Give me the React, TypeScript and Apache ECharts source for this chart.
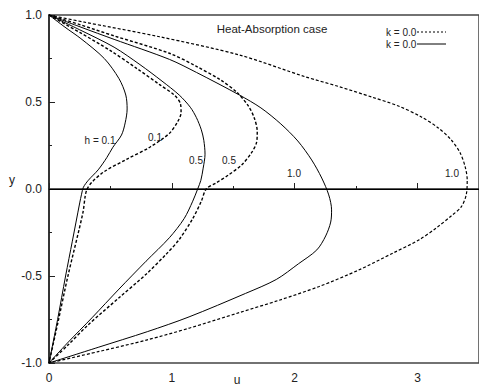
import React, { useEffect, useRef } from "react";
import * as echarts from "echarts";

// u (x) vs y profiles, k = 0.0 (solid and dashed), h = 0.1, 0.5, 1.0
const solidH01: [number, number][] = [
  [0, 1], [0.13, 0.93], [0.26, 0.864], [0.45, 0.75], [0.57, 0.634], [0.625, 0.54], [0.636, 0.46],
  [0.62, 0.38], [0.59, 0.31], [0.52, 0.24], [0.47, 0.18], [0.4, 0.11], [0.32, 0.05], [0.28, 0.01],
  [0.265, -0.03], [0.25, -0.08], [0.19, -0.3], [0.135, -0.5], [0.07, -0.75], [0, -1],
];
const dashedH01: [number, number][] = [
  [0, 1], [0.25, 0.9], [0.5, 0.795], [0.72, 0.69], [0.9, 0.6], [1.02, 0.54], [1.07, 0.49],
  [1.075, 0.44], [1.05, 0.39], [0.98, 0.32], [0.82, 0.24], [0.63, 0.17], [0.45, 0.1], [0.35, 0.04],
  [0.31, 0], [0.295, -0.04], [0.275, -0.14], [0.154, -0.5], [0.075, -0.76], [0, -1],
];
const solidH05: [number, number][] = [
  [0, 1], [0.25, 0.915], [0.53, 0.815], [0.74, 0.715], [0.92, 0.62], [1.06, 0.54], [1.15, 0.47],
  [1.2, 0.41], [1.24, 0.34], [1.26, 0.28], [1.27, 0.2], [1.255, 0.12], [1.236, 0.05], [1.21, 0],
  [1.17, -0.07], [1.1, -0.17], [0.98, -0.28], [0.79, -0.415], [0.57, -0.575], [0.35, -0.74],
  [0.15, -0.885], [0, -1],
];
const dashedH05: [number, number][] = [
  [0, 1], [0.25, 0.945], [0.53, 0.88], [0.98, 0.78], [1.2, 0.705], [1.4, 0.625], [1.53, 0.555],
  [1.62, 0.48], [1.67, 0.41], [1.695, 0.33], [1.69, 0.27], [1.65, 0.21], [1.57, 0.14],
  [1.46, 0.08], [1.36, 0.035], [1.28, 0], [1.24, -0.07], [1.17, -0.17], [1.06, -0.29],
  [0.96, -0.37], [0.79, -0.49], [0.57, -0.625], [0.32, -0.78], [0.15, -0.9], [0, -1],
];
const solidH10: [number, number][] = [
  [0, 1], [0.26, 0.93], [0.53, 0.86], [0.98, 0.745], [1.2, 0.67], [1.55, 0.54], [1.725, 0.466],
  [1.887, 0.374], [2.025, 0.276], [2.138, 0.167], [2.22, 0.063], [2.277, -0.034], [2.3, -0.12],
  [2.293, -0.19], [2.252, -0.27], [2.18, -0.35], [2.03, -0.43], [1.85, -0.52], [1.6, -0.6],
  [1.14, -0.735], [0.8, -0.82], [0.4, -0.91], [0, -1],
];
const dashedH10: [number, number][] = [
  [0, 1], [0.28, 0.96], [0.9, 0.875], [1.55, 0.77], [2.09, 0.644], [2.358, 0.589], [2.625, 0.529],
  [2.844, 0.477], [3.031, 0.414], [3.169, 0.351], [3.274, 0.282], [3.347, 0.207], [3.388, 0.126],
  [3.404, 0.052], [3.396, -0.034], [3.355, -0.103], [3.274, -0.155], [3.152, -0.224], [3.01, -0.293],
  [2.8, -0.368], [2.52, -0.466], [2.2, -0.56], [1.87, -0.64], [1.55, -0.71], [1.14, -0.8],
  [0.8, -0.867], [0.4, -0.935], [0, -1],
];

const xTicks = [0, 1, 2, 3];
const yTicks = [-1, -0.5, 0, 0.5, 1];

const FONT = "Liberation Sans, Arial, sans-serif";

export default function App() {
  const ref = useRef<HTMLDivElement>(null);
  useEffect(() => {
    if (!ref.current) return;
    const chart = echarts.init(ref.current, null, { renderer: "svg" });
    const solidStyle = { color: "#000", width: 1, type: "solid" as const };
    const dashStyle = { color: "#000", width: 1.4, type: [3, 2] as any };
    const mk = (name: string, data: [number, number][], dashed: boolean, extra: any = {}) => ({
      name,
      type: "line",
      data,
      smooth: 0.3,
      showSymbol: false,
      symbol: "none",
      lineStyle: dashed ? dashStyle : solidStyle,
      silent: true,
      ...extra,
    });
    const label = (text: string, x: number, y: number, size = 10) => ({
      type: "text",
      x,
      y,
      style: {
        text,
        fill: "#222",
        fontSize: size,
        fontFamily: FONT,
        textAlign: "center",
        textVerticalAlign: "middle",
      },
    });
    chart.setOption({
      animation: false,
      grid: {
        left: 49,
        top: 15,
        bottom: 25,
        right: -2,
        show: true,
        borderColor: "#444",
        borderWidth: 1.5,
        backgroundColor: "transparent",
      },
      xAxis: {
        type: "value",
        min: 0,
        max: 3.5,
        interval: 1,
        axisLine: { show: true, lineStyle: { color: "#222", width: 1.5 } },
        axisTick: { show: true, inside: true, length: 6, lineStyle: { color: "#222" } },
        minorTick: { show: true, splitNumber: 2, length: 3, lineStyle: { color: "#222" } },
        splitLine: { show: false },
        minorSplitLine: { show: false },
        axisLabel: {
          color: "#222",
          fontSize: 12,
          fontFamily: FONT,
          margin: 9,
          showMaxLabel: false,
          formatter: (v: number) => (xTicks.includes(v) ? String(v) : ""),
        },
      },
      yAxis: {
        type: "value",
        min: -1,
        max: 1,
        interval: 0.5,
        axisLine: { show: true, lineStyle: { color: "#222", width: 1.5 } },
        axisTick: { show: true, inside: true, length: 6, lineStyle: { color: "#222" } },
        minorTick: { show: true, splitNumber: 2, length: 3, lineStyle: { color: "#222" } },
        splitLine: { show: false },
        minorSplitLine: { show: false },
        axisLabel: {
          color: "#222",
          fontSize: 12,
          fontFamily: FONT,
          margin: 7,
          formatter: (v: number) => (yTicks.includes(v) ? v.toFixed(1) : ""),
        },
      },
      series: [
        mk("h=0.1 solid", solidH01, false, {
          markLine: {
            silent: true,
            symbol: "none",
            label: { show: false },
            lineStyle: { color: "#000", width: 1.2, type: "solid" },
            data: [{ yAxis: 0 }],
          },
        }),
        mk("h=0.1 dashed", dashedH01, true),
        mk("h=0.5 solid", solidH05, false),
        mk("h=0.5 dashed", dashedH05, true),
        mk("h=1.0 solid", solidH10, false),
        mk("h=1.0 dashed", dashedH10, true, { lineStyle: { color: "#000", width: 1.2, type: [3, 2] } }),
      ],
      graphic: [
        label("Heat-Absorption case", 272, 29, 11.5),
        label("y", 12, 180, 12),
        label("u", 237, 380, 12),
        label("h = 0.1", 100, 140),
        label("0.1", 155, 137),
        label("0.5", 196, 160),
        label("0.5", 229, 160),
        label("1.0", 294, 173),
        label("1.0", 452, 173),
        {
          type: "text",
          x: 386,
          y: 32,
          style: { text: "k = 0.0", fill: "#222", fontSize: 10, fontFamily: FONT, textAlign: "left", textVerticalAlign: "middle" },
        },
        {
          type: "text",
          x: 386,
          y: 44,
          style: { text: "k = 0.0", fill: "#222", fontSize: 10, fontFamily: FONT, textAlign: "left", textVerticalAlign: "middle" },
        },
        {
          type: "line",
          shape: { x1: 417, y1: 32, x2: 446, y2: 32 },
          style: { stroke: "#000", lineWidth: 1, lineDash: [2, 2] },
        },
        {
          type: "line",
          shape: { x1: 417, y1: 44, x2: 446, y2: 44 },
          style: { stroke: "#000", lineWidth: 1 },
        },
      ],
    });
    return () => chart.dispose();
  }, []);
  return (
    <div
      ref={ref}
      style={{ position: "fixed", left: 0, top: 0, width: 479, height: 388, background: "#fff" }}
    />
  );
}
